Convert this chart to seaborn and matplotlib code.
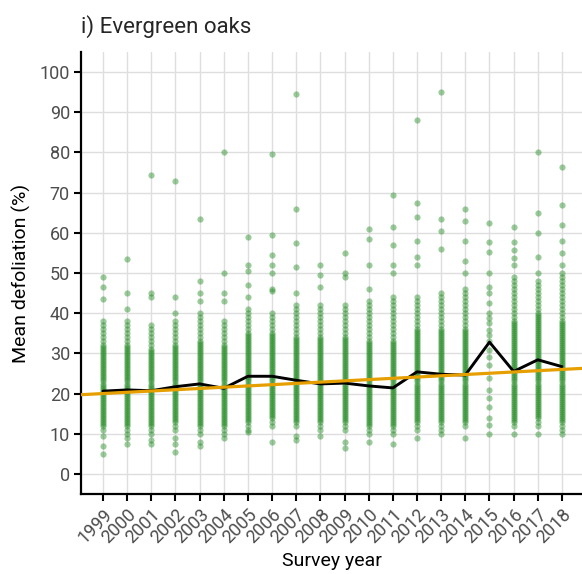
import numpy as np
import pandas as pd
import seaborn as sns
import matplotlib.pyplot as plt

# survey years and the mean defoliation per year (black line)
years = list(range(1999, 2019))
mean_defol = [20.6, 20.9, 20.7, 21.7, 22.4, 21.3, 24.3, 24.3, 23.3, 22.4,
              22.6, 21.9, 21.4, 25.4, 24.8, 24.6, 32.8, 25.5, 28.4, 26.7]

# fitted trend (orange line), values read at the first and last survey year
trend_1999 = 20.0
trend_2018 = 26.0

# plot-level defoliation values, one list per survey year
defol_1999 = [49, 46.5, 43.5, 38, 37, 36, 35, 34, 33, 32, 31.5, 31, 30.5, 30, 29.5, 29, 28.5, 28, 27.5, 27,
              26.5, 26, 25.5, 25, 24.5, 24, 23.5, 23, 22.5, 22, 21.5, 21, 20.5, 20, 19.5, 19, 18.5, 18, 17.5,
              17, 16.5, 16, 15.5, 15, 14.5, 14, 13.5, 13, 12.5, 12, 11, 9.5, 7, 5]
defol_2000 = [53.5, 45, 41, 38, 37, 36, 35, 34, 33, 32, 31.5, 31, 30.5, 30, 29.5, 29, 28.5, 28, 27.5, 27,
              26.5, 26, 25.5, 25, 24.5, 24, 23.5, 23, 22.5, 22, 21.5, 21, 20.5, 20, 19.5, 19, 18.5, 18, 17.5,
              17, 16.5, 16, 15.5, 15, 14.5, 14, 13.5, 13, 12.5, 12, 11, 10, 9, 7.5]
defol_2001 = [74.5, 45, 44, 37, 36, 35, 34, 33, 32, 31, 30.5, 30, 29.5, 29, 28.5, 28, 27.5, 27, 26.5, 26,
              25.5, 25, 24.5, 24, 23.5, 23, 22.5, 22, 21.5, 21, 20.5, 20, 19.5, 19, 18.5, 18, 17.5, 17, 16.5,
              16, 15.5, 15, 14.5, 14, 13.5, 13, 12.5, 12, 11, 10, 8.5, 7.5]
defol_2002 = [73, 44, 40, 38, 37, 36, 35, 34, 33, 32, 31.5, 31, 30.5, 30, 29.5, 29, 28.5, 28, 27.5, 27,
              26.5, 26, 25.5, 25, 24.5, 24, 23.5, 23, 22.5, 22, 21.5, 21, 20.5, 20, 19.5, 19, 18.5, 18, 17.5,
              17, 16.5, 16, 15.5, 15, 14.5, 14, 13.5, 13, 12, 11, 9, 7.5, 5.5]
defol_2003 = [63.5, 48, 45, 43, 40, 39, 38, 37, 36, 35, 34, 33, 32.5, 32, 31.5, 31, 30.5, 30, 29.5, 29,
              28.5, 28, 27.5, 27, 26.5, 26, 25.5, 25, 24.5, 24, 23.5, 23, 22.5, 22, 21.5, 21, 20.5, 20, 19.5,
              19, 18.5, 18, 17.5, 17, 16.5, 16, 15.5, 15, 14.5, 14, 13.5, 13, 12.5, 12, 11, 10, 8, 7]
defol_2004 = [80, 50, 45, 43, 38, 37, 36, 35, 34, 33, 32, 31.5, 31, 30.5, 30, 29.5, 29, 28.5, 28, 27.5,
              27, 26.5, 26, 25.5, 25, 24.5, 24, 23.5, 23, 22.5, 22, 21.5, 21, 20.5, 20, 19.5, 19, 18.5, 18,
              17.5, 17, 16.5, 16, 15.5, 15, 14.5, 14, 13.5, 13, 12.5, 12, 11, 10, 9]
defol_2005 = [59, 52, 50.5, 47, 44, 41, 40, 39, 38, 37, 36, 35, 34.5, 34, 33.5, 33, 32.5, 32, 31.5, 31,
              30.5, 30, 29.5, 29, 28.5, 28, 27.5, 27, 26.5, 26, 25.5, 25, 24.5, 24, 23.5, 23, 22.5, 22, 21.5,
              21, 20.5, 20, 19.5, 19, 18.5, 18, 17.5, 17, 16.5, 16, 15.5, 15, 14.5, 14, 13.5, 13, 12, 11, 10.5]
defol_2006 = [79.5, 59.5, 54.5, 52, 50, 46, 45.5, 40, 39, 38, 37, 36, 35, 34.5, 34, 33.5, 33, 32.5, 32,
              31.5, 31, 30.5, 30, 29.5, 29, 28.5, 28, 27.5, 27, 26.5, 26, 25.5, 25, 24.5, 24, 23.5, 23, 22.5,
              22, 21.5, 21, 20.5, 20, 19.5, 19, 18.5, 18, 17.5, 17, 16.5, 16, 15.5, 15, 14.5, 14, 13, 12, 8]
defol_2007 = [94.5, 66, 57.5, 51.5, 45, 42, 41, 40, 39, 38, 37, 36, 35, 34, 33.5, 33, 32.5, 32, 31.5, 31,
              30.5, 30, 29.5, 29, 28.5, 28, 27.5, 27, 26.5, 26, 25.5, 25, 24.5, 24, 23.5, 23, 22.5, 22, 21.5,
              21, 20.5, 20, 19.5, 19, 18.5, 18, 17.5, 17, 16.5, 16, 15.5, 15, 14.5, 14, 13.5, 13, 12, 9.5, 8.5]
defol_2008 = [52, 49.5, 46.5, 42, 41, 40, 39, 38, 37, 36, 35, 34, 33.5, 33, 32.5, 32, 31.5, 31, 30.5, 30,
              29.5, 29, 28.5, 28, 27.5, 27, 26.5, 26, 25.5, 25, 24.5, 24, 23.5, 23, 22.5, 22, 21.5, 21, 20.5,
              20, 19.5, 19, 18.5, 18, 17.5, 17, 16.5, 16, 15.5, 15, 14.5, 14, 13.5, 13, 12, 11, 9.5]
defol_2009 = [55, 50, 49, 42, 41, 40, 39, 38, 37, 36, 35, 34, 33.5, 33, 32.5, 32, 31.5, 31, 30.5, 30,
              29.5, 29, 28.5, 28, 27.5, 27, 26.5, 26, 25.5, 25, 24.5, 24, 23.5, 23, 22.5, 22, 21.5, 21, 20.5,
              20, 19.5, 19, 18.5, 18, 17.5, 17, 16.5, 16, 15.5, 15, 14.5, 14, 13.5, 13, 12, 11, 8, 6.5]
defol_2010 = [61, 58.5, 52, 46, 43, 42, 41, 40, 39, 38, 37, 36, 35, 34, 33, 32.5, 32, 31.5, 31, 30.5, 30,
              29.5, 29, 28.5, 28, 27.5, 27, 26.5, 26, 25.5, 25, 24.5, 24, 23.5, 23, 22.5, 22, 21.5, 21, 20.5,
              20, 19.5, 19, 18.5, 18, 17.5, 17, 16.5, 16, 15.5, 15, 14.5, 14, 13.5, 13, 12.5, 12, 11, 10, 8]
defol_2011 = [69.5, 61.5, 57, 52, 50, 44, 43, 42, 41, 40, 39, 38, 37, 36, 35, 34, 33, 32.5, 32, 31.5, 31,
              30.5, 30, 29.5, 29, 28.5, 28, 27.5, 27, 26.5, 26, 25.5, 25, 24.5, 24, 23.5, 23, 22.5, 22, 21.5,
              21, 20.5, 20, 19.5, 19, 18.5, 18, 17.5, 17, 16.5, 16, 15.5, 15, 14.5, 14, 13.5, 13, 12.5, 12,
              11, 10, 7.5]
defol_2012 = [88, 67.5, 64, 58, 54, 52, 44, 43, 42, 41, 40, 39, 38, 37, 36, 35.5, 35, 34.5, 34, 33.5, 33,
              32.5, 32, 31.5, 31, 30.5, 30, 29.5, 29, 28.5, 28, 27.5, 27, 26.5, 26, 25.5, 25, 24.5, 24, 23.5,
              23, 22.5, 22, 21.5, 21, 20.5, 20, 19.5, 19, 18.5, 18, 17.5, 17, 16.5, 16, 15.5, 15, 14.5, 14,
              13.5, 13, 12, 11, 9]
defol_2013 = [95, 63.5, 60.5, 56, 45, 44, 43, 42, 41, 40, 39, 38, 37, 36, 35.5, 35, 34.5, 34, 33.5, 33,
              32.5, 32, 31.5, 31, 30.5, 30, 29.5, 29, 28.5, 28, 27.5, 27, 26.5, 26, 25.5, 25, 24.5, 24, 23.5,
              23, 22.5, 22, 21.5, 21, 20.5, 20, 19.5, 19, 18.5, 18, 17.5, 17, 16.5, 16, 15.5, 15, 14.5, 14,
              13.5, 13, 12, 11, 10]
defol_2014 = [66, 63, 58, 53, 50, 46, 45, 44, 43, 42, 41, 40, 39, 38, 37, 36, 35.5, 35, 34.5, 34, 33.5,
              33, 32.5, 32, 31.5, 31, 30.5, 30, 29.5, 29, 28.5, 28, 27.5, 27, 26.5, 26, 25.5, 25, 24.5, 24,
              23.5, 23, 22.5, 22, 21.5, 21, 20.5, 20, 19.5, 19, 18.5, 18, 17.5, 17, 16.5, 16, 15.5, 15, 14.5,
              14, 13.5, 13, 12, 9]
defol_2015 = [62.5, 57.8, 55.3, 50, 46.6, 45, 42.5, 40, 38.7, 37.5, 35.8, 34.6, 33, 30.8, 29.2, 27.1,
              23.8, 21, 18.8, 16.7, 14, 12.2, 10]
defol_2016 = [61.5, 57.8, 55.7, 53.7, 52, 49, 48, 47, 46, 45, 44, 43, 42, 41, 40, 39, 38, 37.5, 37, 36.5,
              36, 35.5, 35, 34.5, 34, 33.5, 33, 32.5, 32, 31.5, 31, 30.5, 30, 29.5, 29, 28.5, 28, 27.5, 27,
              26.5, 26, 25.5, 25, 24.5, 24, 23.5, 23, 22.5, 22, 21.5, 21, 20.5, 20, 19.5, 19, 18.5, 18, 17.5,
              17, 16.5, 16, 15.5, 15, 14.5, 14, 13.5, 13, 12, 10]
defol_2017 = [80, 65, 60, 54, 50, 48, 47, 46, 45, 44, 43, 42, 41, 40, 39.5, 39, 38.5, 38, 37.5, 37, 36.5,
              36, 35.5, 35, 34.5, 34, 33.5, 33, 32.5, 32, 31.5, 31, 30.5, 30, 29.5, 29, 28.5, 28, 27.5, 27,
              26.5, 26, 25.5, 25, 24.5, 24, 23.5, 23, 22.5, 22, 21.5, 21, 20.5, 20, 19.5, 19, 18.5, 18, 17.5,
              17, 16.5, 16, 15.5, 15, 14.5, 14, 13, 12, 10]
defol_2018 = [76.5, 67, 62, 58, 55, 52, 50, 49, 48, 47, 46, 45, 44, 43, 42, 41, 40, 39, 38, 37.5, 37,
              36.5, 36, 35.5, 35, 34.5, 34, 33.5, 33, 32.5, 32, 31.5, 31, 30.5, 30, 29.5, 29, 28.5, 28, 27.5,
              27, 26.5, 26, 25.5, 25, 24.5, 24, 23.5, 23, 22.5, 22, 21.5, 21, 20.5, 20, 19.5, 19, 18.5, 18,
              17.5, 17, 16.5, 16, 15.5, 15, 14.5, 14, 13.5, 13, 12, 11, 10]

per_year = [defol_1999, defol_2000, defol_2001, defol_2002, defol_2003, defol_2004, defol_2005,
            defol_2006, defol_2007, defol_2008, defol_2009, defol_2010, defol_2011, defol_2012,
            defol_2013, defol_2014, defol_2015, defol_2016, defol_2017, defol_2018]

points_df = pd.DataFrame({
    "year": [yr for yr, vals in zip(years, per_year) for _ in vals],
    "defoliation": [v for vals in per_year for v in vals],
})
means_df = pd.DataFrame({"year": years, "defoliation": mean_defol})

sns.set_style("white")
plt.rcParams['font.family'] = ['Roboto', 'DejaVu Sans']

fig = plt.figure(figsize=(5.82, 5.74), dpi=100)
ax = fig.add_axes([81 / 582, 80 / 574, 501 / 582, 442 / 574])

ax.set_xlim(1998.09, 2018.83)
ax.set_ylim(-5, 105)

sns.scatterplot(data=points_df, x="year", y="defoliation", color="#228B22",
                alpha=0.45, s=20, linewidth=0, ax=ax, zorder=2)
sns.lineplot(data=means_df, x="year", y="defoliation", color="black",
             linewidth=2.1, ax=ax, zorder=3)
ax.axline((years[0], trend_1999), (years[-1], trend_2018), color="#E69F00",
          linewidth=2.3, zorder=4)

ax.set_xticks(years)
ax.set_xticklabels([str(y) for y in years], rotation=45, ha="right",
                   rotation_mode="anchor")
ax.set_yticks(range(0, 101, 10))
ax.grid(True, color="#dedede", linewidth=1.0)
ax.set_axisbelow(True)

for side in ["top", "right"]:
    ax.spines[side].set_visible(False)
for side in ["left", "bottom"]:
    ax.spines[side].set_color("black")
    ax.spines[side].set_linewidth(1.6)

ax.tick_params(axis="both", which="major", length=5, width=1.5, color="black",
               labelsize=13, labelcolor="#4d4d4d", bottom=True, left=True, pad=3)

ax.set_xlabel("Survey year", fontsize=14, color="black", labelpad=4)
ax.set_ylabel("Mean defoliation (%)", fontsize=14, color="black", labelpad=6)
ax.set_title("i) Evergreen oaks", loc="left", fontsize=16, pad=14)

fig.savefig("out.png", dpi=100)
